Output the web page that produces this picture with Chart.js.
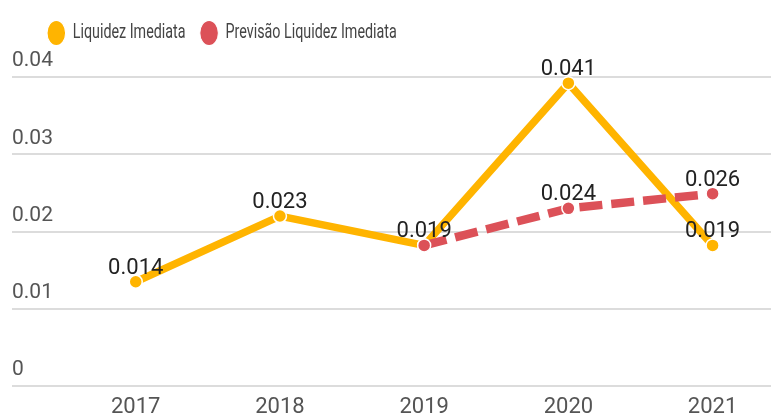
<!DOCTYPE html>
<html>
<head>
<meta charset="utf-8">
<script src="https://cdn.jsdelivr.net/npm/chart.js@4.4.0/dist/chart.umd.min.js"></script>
<style>
    body { margin: 0; background: #fff; }
    #wrap { width: 779px; height: 415px; }
</style>
</head>
<body>
<div id="wrap"><canvas id="liquidezChart"></canvas></div>
<script>
// values
const years = [2017, 2018, 2019, 2020, 2021];
const liquidez = [0.0135, 0.0220, 0.0182, 0.0392, 0.0182];
const previsao = [null, null, 0.0182, 0.0230, 0.0249];
const liquidezLabels = ['0.014', '0.023', '0.019', '0.041', '0.019'];
const previsaoLabels = [null, null, null, '0.024', '0.026'];
const yTicks = [0, 0.01, 0.02, 0.03, 0.04];

const YELLOW = '#FFB400';
const RED = '#DC5158';

// the legend in the picture is narrow: squash it sideways and put it at x=47
const LEGEND_X = 47;
const LEGEND_SQUASH = 0.715;
const legendSquash = {
    id: 'legendSquash',
    beforeDraw(chart) {
        const lg = chart.legend;
        if (!lg || lg._squashed) return;
        const orig = lg.draw.bind(lg);
        lg.draw = function () {
            const c = chart.ctx;
            const start = lg.legendHitBoxes.length ? lg.legendHitBoxes[0].left : lg.left;
            c.save();
            c.translate(LEGEND_X, 0);
            c.scale(LEGEND_SQUASH, 1);
            c.translate(-start, 0);
            orig();
            c.restore();
        };
        lg._squashed = true;
    }
};

// value labels above the points
const valueLabels = {
    id: 'valueLabels',
    afterDatasetsDraw(chart) {
        const ctx = chart.ctx;
        const sets = [liquidezLabels, previsaoLabels];
        ctx.save();
        ctx.font = '22px Roboto';
        ctx.fillStyle = '#222';
        ctx.textAlign = 'center';
        ctx.textBaseline = 'alphabetic';
        sets.forEach((labels, d) => {
            const meta = chart.getDatasetMeta(d);
            labels.forEach((txt, i) => {
                if (txt === null) return;
                const pt = meta.data[i];
                ctx.fillText(txt, pt.x, pt.y - 8);
            });
        });
        ctx.restore();
    }
};

const ctx = document.getElementById('liquidezChart').getContext('2d');
new Chart(ctx, {
    type: 'line',
    data: {
        datasets: [{
            label: 'Liquidez Imediata',
            data: years.map((y, i) => ({ x: y, y: liquidez[i] })),
            borderColor: YELLOW,
            backgroundColor: YELLOW,
            borderWidth: 7.5,
            pointRadius: 6.5,
            pointBorderWidth: 1.5,
            pointBackgroundColor: YELLOW,
            pointBorderColor: '#fff',
            order: 1,
            clip: false
        }, {
            label: 'Previsão Liquidez Imediata',
            data: years.map((y, i) => ({ x: y, y: previsao[i] })),
            borderColor: RED,
            backgroundColor: RED,
            borderWidth: 8.5,
            borderDash: [23, 9],
            pointRadius: 6.5,
            pointBorderWidth: 1.5,
            pointBackgroundColor: RED,
            pointBorderColor: '#fff',
            order: 0,
            clip: false
        }]
    },
    options: {
        responsive: true,
        maintainAspectRatio: false,
        animation: false,
        layout: {
            padding: { left: 12, right: 0, top: 3, bottom: 0 }
        },
        scales: {
            x: {
                type: 'linear',
                min: 2016.142,
                max: 2021.405,
                afterBuildTicks: axis => { axis.ticks = years.map(v => ({ value: v })); },
                afterFit: axis => { axis.height = 29; },
                grid: { display: false, drawTicks: false },
                border: { display: false },
                ticks: {
                    padding: 13,
                    color: '#555',
                    font: { family: 'Roboto', size: 22, lineHeight: 0.77 },
                    callback: v => String(v)
                }
            },
            y: {
                min: 0,
                max: 0.04,
                afterBuildTicks: axis => { axis.ticks = yTicks.map(v => ({ value: v })); },
                grid: { color: '#dcdcdc', lineWidth: 2, drawTicks: false },
                border: { display: false },
                ticks: {
                    mirror: true,
                    padding: 0,
                    labelOffset: -16,
                    color: '#555',
                    font: { family: 'Roboto', size: 21 },
                    callback: v => v === 0 ? '0' : v.toFixed(2)
                }
            }
        },
        plugins: {
            legend: {
                display: true,
                position: 'top',
                align: 'start',
                labels: {
                    usePointStyle: true,
                    pointStyle: 'circle',
                    pointStyleWidth: 26,
                    boxHeight: 18,
                    padding: 20,
                    color: '#444',
                    font: { family: 'Roboto', size: 20 },
                    sort: (a, b) => a.datasetIndex - b.datasetIndex
                }
            },
            // empty title used as a spacer between legend and plot
            title: {
                display: true,
                text: '',
                weight: 500,
                font: { size: 1, lineHeight: 1 },
                padding: { top: 0, bottom: 23 }
            },
            tooltip: { enabled: false }
        }
    },
    plugins: [legendSquash, valueLabels]
});
</script>
</body>
</html>
